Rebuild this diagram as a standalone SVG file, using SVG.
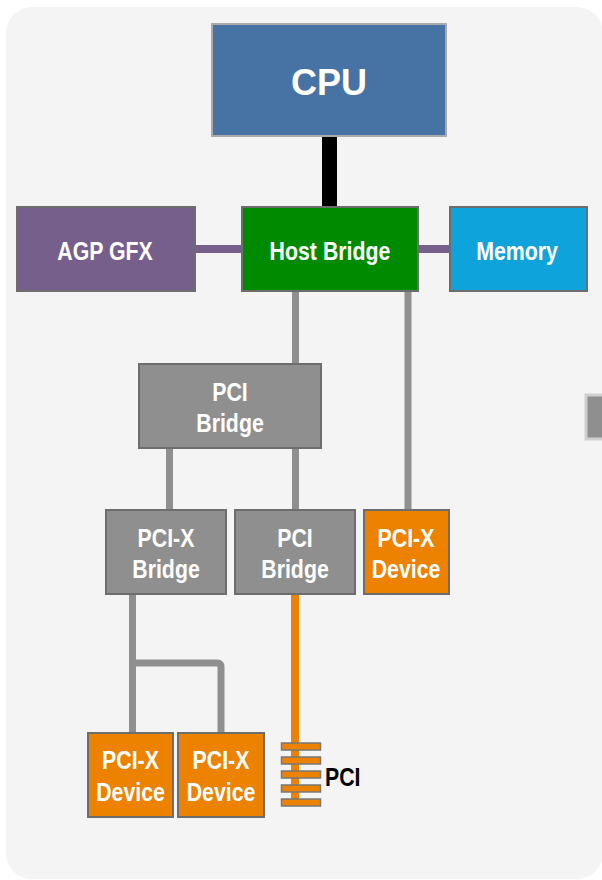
<svg xmlns="http://www.w3.org/2000/svg" width="602" height="880" viewBox="0 0 602 880">
<style>
.lbl{font-family:"Liberation Sans",Arial,sans-serif;font-weight:bold;font-size:26px;fill:#fff;text-anchor:middle}
.box{stroke:#6d6d6d;stroke-width:2}
.gray{fill:#8f8f8f}
.orange{fill:#ec8200}
.gl{stroke:#8f8f8f;stroke-width:7;fill:none}
.bar{fill:#ec8200;stroke:#777;stroke-width:1.5}
</style>
<rect x="0" y="0" width="602" height="880" fill="#ffffff"/>
<rect x="6" y="7" width="597" height="872" rx="26" fill="#f4f4f4"/>
<rect x="586" y="395" width="20" height="44" fill="#8f8f8f" stroke="#cfcfcf" stroke-width="3"/>
<g id="connectors">
<line x1="329.5" y1="136" x2="329.5" y2="207" stroke="#000" stroke-width="15"/>
<line x1="195" y1="249" x2="242" y2="249" stroke="#765f8a" stroke-width="8"/>
<line x1="418" y1="249" x2="450" y2="249" stroke="#765f8a" stroke-width="8"/>
<line class="gl" x1="295.5" y1="291" x2="295.5" y2="364"/>
<line class="gl" x1="408" y1="291" x2="408" y2="510"/>
<line class="gl" x1="169.5" y1="448" x2="169.5" y2="510"/>
<line class="gl" x1="295.5" y1="448" x2="295.5" y2="510"/>
<path class="gl" d="M132.5,594 V733 M132.5,663 H217 Q221,663 221,667 V733"/>
<line x1="295" y1="594" x2="295" y2="804" stroke="#ec8200" stroke-width="8"/>
</g>
<g id="cpu">
<rect x="212" y="24" width="234" height="112" fill="#4673a3" stroke="#aaaaaa" stroke-width="2"/>
<text x="329" y="95" font-family="'Liberation Sans',Arial,sans-serif" font-weight="bold" font-size="36" fill="#fff" text-anchor="middle">CPU</text>
</g>
<g id="agp">
<rect class="box" x="17" y="207" width="178" height="84" fill="#765f8a"/>
<text class="lbl" transform="matrix(0.82 0 0 1 105 260)">AGP GFX</text>
</g>
<g id="host-bridge">
<rect class="box" x="242" y="207" width="176" height="84" fill="#008a00"/>
<text class="lbl" transform="matrix(0.82 0 0 1 330 260)">Host Bridge</text>
</g>
<g id="memory">
<rect class="box" x="450" y="207" width="137" height="84" fill="#0fa3dc"/>
<text class="lbl" transform="matrix(0.82 0 0 1 517 260)">Memory</text>
</g>
<g id="pci-bridge-1">
<rect class="box gray" x="139" y="364" width="182" height="84"/>
<text class="lbl" transform="matrix(0.82 0 0 1 230 401)">PCI</text>
<text class="lbl" transform="matrix(0.82 0 0 1 230 432)">Bridge</text>
</g>
<g id="pcix-bridge">
<rect class="box gray" x="106" y="510" width="120" height="84"/>
<text class="lbl" transform="matrix(0.82 0 0 1 166 547)">PCI-X</text>
<text class="lbl" transform="matrix(0.82 0 0 1 166 578)">Bridge</text>
</g>
<g id="pci-bridge-2">
<rect class="box gray" x="235" y="510" width="120" height="84"/>
<text class="lbl" transform="matrix(0.82 0 0 1 295 547)">PCI</text>
<text class="lbl" transform="matrix(0.82 0 0 1 295 578)">Bridge</text>
</g>
<g id="pcix-device-1">
<rect class="box orange" x="364" y="510" width="85" height="84"/>
<text class="lbl" transform="matrix(0.82 0 0 1 406 547)">PCI-X</text>
<text class="lbl" transform="matrix(0.82 0 0 1 406 578)">Device</text>
</g>
<g id="pcix-device-2">
<rect class="box orange" x="88" y="733" width="85" height="84"/>
<text class="lbl" transform="matrix(0.82 0 0 1 130.5 769)">PCI-X</text>
<text class="lbl" transform="matrix(0.82 0 0 1 130.5 801)">Device</text>
</g>
<g id="pcix-device-3">
<rect class="box orange" x="178" y="733" width="86" height="84"/>
<text class="lbl" transform="matrix(0.82 0 0 1 221 769)">PCI-X</text>
<text class="lbl" transform="matrix(0.82 0 0 1 221 801)">Device</text>
</g>
<g id="pci-bus">
<rect class="bar" x="281.5" y="743" width="39" height="7"/>
<rect class="bar" x="281.5" y="757" width="39" height="7"/>
<rect class="bar" x="281.5" y="771" width="39" height="7"/>
<rect class="bar" x="281.5" y="785" width="39" height="7"/>
<rect class="bar" x="281.5" y="799" width="39" height="7"/>
<text transform="matrix(0.82 0 0 1 325 786)" font-family="'Liberation Sans',Arial,sans-serif" font-weight="bold" font-size="26" fill="#000">PCI</text>
</g>
</svg>
